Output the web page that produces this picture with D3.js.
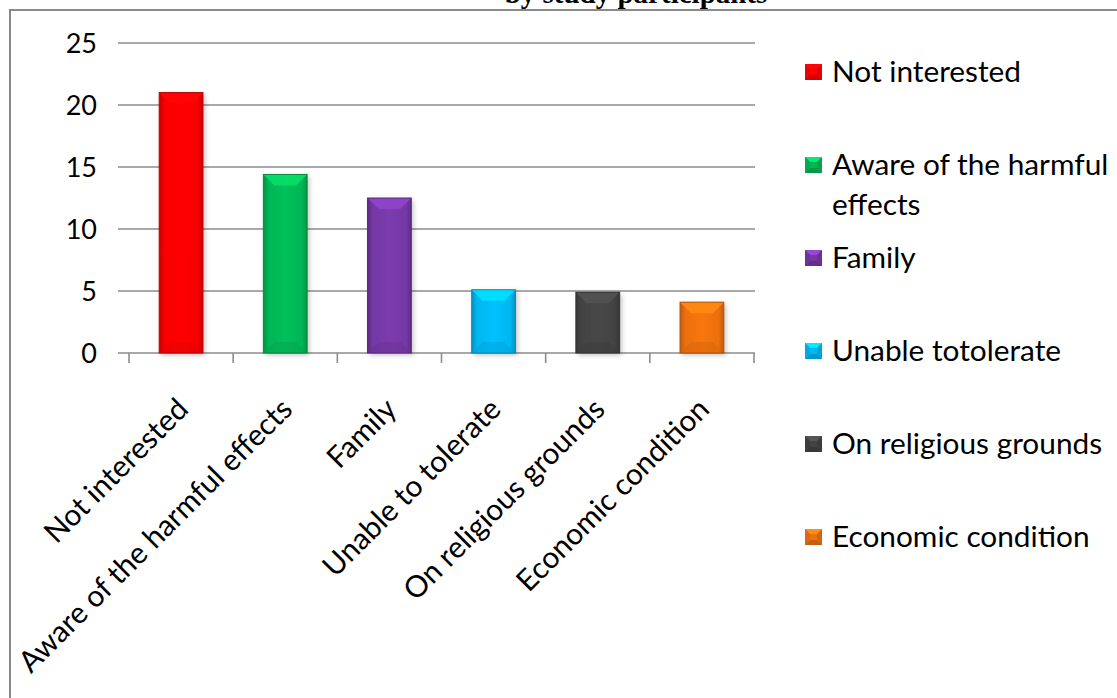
<!DOCTYPE html>
<html><head><meta charset="utf-8">
<script src="https://cdn.jsdelivr.net/npm/d3@7"></script>
<style>html,body{margin:0;padding:0;background:#fff;overflow:hidden}</style>
</head><body>
<svg id="chart" width="1117" height="698"></svg>
<script>
const categories = ["Not interested","Aware of the harmful effects","Family","Unable to tolerate","On religious grounds","Economic condition"];
const legendLines = [["Not interested"],["Aware of the harmful","effects"],["Family"],["Unable totolerate"],["On religious grounds"],["Economic condition"]];
const values = [21, 14.4, 12.5, 5.1, 4.9, 4.1];
const colors = ["#f80404","#06b655","#7538a5","#00b7f1","#434343","#ec7010"];
const yTicks = [0,5,10,15,20,25];
const titleText = "by study participants";

const svg = d3.select("#chart");
const font = "Lato, 'Open Sans', sans-serif";

// frame
svg.append("path").attr("d","M10,698 L10,10 L1117,10").attr("fill","none").attr("stroke","#8a8a8a").attr("stroke-width",2);
// title (cut at top, as in the reference)
svg.append("text").attr("x",636).attr("y",3).attr("text-anchor","middle")
  .attr("font-family","'Liberation Serif','Times New Roman',serif").attr("font-weight","bold").attr("font-size",29)
  .text(titleText);

const x = d3.scaleBand().domain(categories).range([129,754]).paddingInner(0.58).paddingOuter(0.29);
const xAxisScale = d3.scaleBand().domain(categories).range([129,754]);
const y = d3.scaleLinear().domain([0,25]).range([353,43]);

// gridlines
svg.append("g").selectAll("line").data(yTicks).join("line")
  .attr("x1",118).attr("x2",755).attr("y1",d=>y(d)).attr("y2",d=>y(d))
  .attr("stroke","#8c8c8c").attr("stroke-width",1.6);

// y labels
svg.append("g").selectAll("text").data(yTicks).join("text")
  .attr("x",97).attr("y",d=>y(d)).attr("dy","0.36em").attr("text-anchor","end")
  .attr("font-family",font).attr("font-size",27).attr("fill","#000").text(d=>d);

// x ticks
const tickPos = categories.map(c=>xAxisScale(c)).concat([xAxisScale.range()[1]]);
svg.append("g").selectAll("line").data(tickPos).join("line")
  .attr("x1",d=>d).attr("x2",d=>d).attr("y1",353).attr("y2",363)
  .attr("stroke","#8c8c8c").attr("stroke-width",1.6);

// defs
const defs = svg.append("defs");
const filt = defs.append("filter").attr("id","sh").attr("x","-20%").attr("y","-20%").attr("width","150%").attr("height","150%");
filt.append("feDropShadow").attr("dx",2).attr("dy",2).attr("stdDeviation",2.5).attr("flood-color","#000").attr("flood-opacity",0.25);
colors.forEach((c,i)=>{
  const g = defs.append("linearGradient").attr("id","gr"+i).attr("x1","0").attr("x2","1").attr("y1","0").attr("y2","0");
  const dk = d3.color(c).darker(0.6), lt = d3.color(c).brighter(0.15);
  g.append("stop").attr("offset","0").attr("stop-color",dk);
  g.append("stop").attr("offset","0.12").attr("stop-color",c);
  g.append("stop").attr("offset","0.5").attr("stop-color",lt);
  g.append("stop").attr("offset","0.88").attr("stop-color",c);
  g.append("stop").attr("offset","1").attr("stop-color",dk);
});

// bars
const bars = svg.append("g").selectAll("g").data(values).join("g");
bars.append("rect")
  .attr("x",(d,i)=>x(categories[i])).attr("y",d=>y(d))
  .attr("width",x.bandwidth()).attr("height",d=>y(0)-y(d))
  .attr("fill",(d,i)=>"url(#gr"+i+")").attr("filter","url(#sh)");
const bev = 11;
bars.append("path").attr("d",(d,i)=>{
  const x0=x(categories[i]), x1=x0+x.bandwidth(), t=y(d);
  return `M${x0},${t}L${x1},${t}L${x1-bev},${t+bev}L${x0+bev},${t+bev}Z`;
}).attr("fill",(d,i)=>d3.color(colors[i]).brighter(0.6)).attr("opacity",0.85);
bars.append("path").attr("d",(d,i)=>{
  const x0=x(categories[i]), x1=x0+x.bandwidth(), b=y(0);
  return `M${x0},${b}L${x1},${b}L${x1-bev},${b-bev}L${x0+bev},${b-bev}Z`;
}).attr("fill",(d,i)=>d3.color(colors[i]).darker(0.3)).attr("opacity",0.5);
bars.append("rect")
  .attr("x",(d,i)=>x(categories[i])).attr("y",d=>y(d))
  .attr("width",x.bandwidth()).attr("height",d=>y(0)-y(d))
  .attr("fill","none").attr("stroke",(d,i)=>d3.color(colors[i]).darker(0.8)).attr("stroke-width",1);

// x labels
svg.append("g").selectAll("text").data(categories).join("text")
  .attr("transform",d=>`translate(${xAxisScale(d)+xAxisScale.bandwidth()/2+9},${411}) rotate(-45)`)
  .attr("text-anchor","end").attr("font-family",font).attr("font-size",29.8).attr("fill","#000").text(d=>d);

// legend
const leg = svg.append("g").selectAll("g").data(legendLines).join("g")
  .attr("transform",(d,i)=>`translate(805,${72+i*93})`);
function marker(g,c){
  const s=17,h=16,b=5;
  g.append("rect").attr("x",0).attr("y",-h/2).attr("width",s).attr("height",h).attr("fill",c);
  g.append("path").attr("d",`M0,${-h/2}L${s},${-h/2}L${s-b},${-h/2+b}L${b},${-h/2+b}Z`).attr("fill",d3.color(c).brighter(0.7));
  g.append("path").attr("d",`M0,${h/2}L${s},${h/2}L${s-b},${h/2-b}L${b},${h/2-b}Z`).attr("fill",d3.color(c).darker(0.5));
  g.append("path").attr("d",`M0,${-h/2}L${b},${-h/2+b}L${b},${h/2-b}L0,${h/2}Z`).attr("fill",d3.color(c).darker(0.2));
  g.append("path").attr("d",`M${s},${-h/2}L${s-b},${-h/2+b}L${s-b},${h/2-b}L${s},${h/2}Z`).attr("fill",d3.color(c).darker(0.3));
}
leg.each(function(d,i){ marker(d3.select(this),colors[i]); });
leg.selectAll("text").data(d=>d).join("text")
  .attr("x",27).attr("y",(d,j)=>j*40).attr("dy","0.35em")
  .attr("font-family",font).attr("font-size",29.8).attr("fill","#000").text(d=>d);
</script>
</body></html>
